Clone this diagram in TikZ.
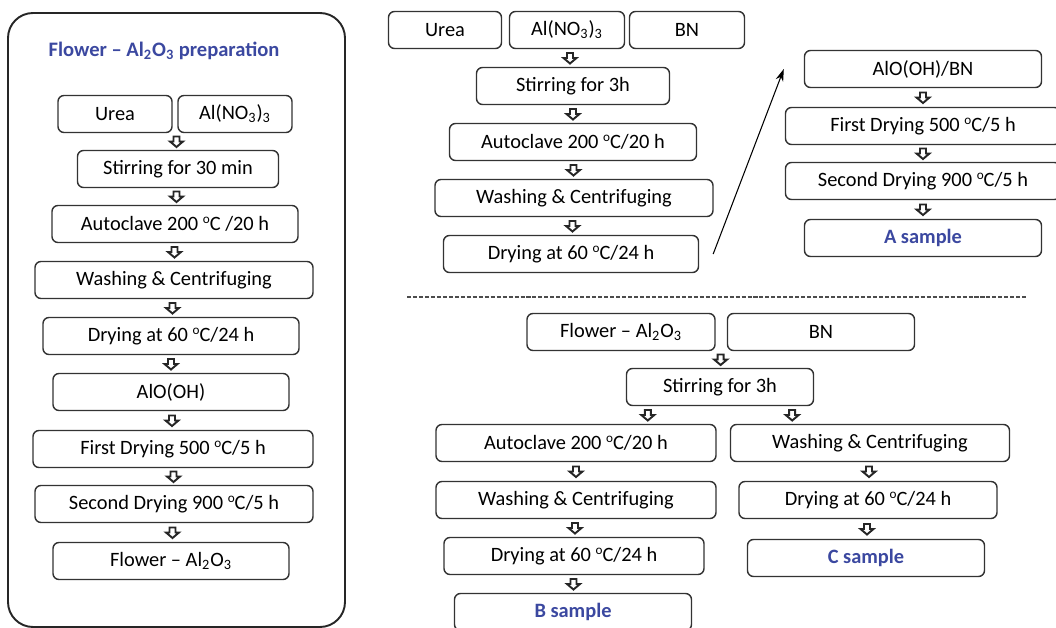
\documentclass[tikz,border=0pt]{standalone}
\usepackage{fontspec}
\setmainfont{Carlito}
\usetikzlibrary{calc,arrows.meta}
\definecolor{titleblue}{RGB}{59,72,160}
\newcommand{\dg}{\raisebox{0.75ex}{\fontsize{7.5}{8}\selectfont o}C}
\begin{document}
\begin{tikzpicture}[x=0.02cm, y=-0.02cm,
    box/.style={draw=black!80, line width=0.8pt, rounded corners=0.12cm, minimum height=0.74cm, inner sep=0pt, font=\fontsize{11.6}{13}\selectfont},
    wd/.style={minimum width=#1*0.02cm},
    result/.style={box, font=\fontsize{11.6}{13}\selectfont\bfseries, text=titleblue},
    flowarrow/.pic={\draw[black!85, line width=1.1pt, fill=white] (-3,-5) -- (3,-5) -- (3,0) -- (6.5,0) -- (0,5.5) -- (-6.5,0) -- (-3,0) -- cycle;}]
    \useasboundingbox (0,0) rectangle (1056,628);
    \draw[black!85, line width=1.1pt, rounded corners=0.5cm] (8,13) rectangle (345,627);
    \node[font=\fontsize{11.7}{14}\selectfont\bfseries, text=titleblue] (title) at (164,51) {Flower -- Al\textsubscript{2}O\textsubscript{3} preparation};
    \node[box, wd=114] (lurea) at (115,114) {Urea};
    \node[box, wd=114] (lnitr) at (235,114) {Al(NO\textsubscript{3})\textsubscript{3}};
    \node[box, wd=201] (lstir) at (178,169) {Stirring for 30 min};
    \node[box, wd=246] (lauto) at (175,224) {Autoclave 200 \dg{} /20 h};
    \node[box, wd=278] (lwash) at (174,280) {Washing \& Centrifuging};
    \node[box, wd=256] (ldry) at (171,336) {Drying at 60 \dg/24 h};
    \node[box, wd=236] (laloh) at (171,392) {AlO(OH)};
    \node[box, wd=280] (lfirst) at (173,449) {First Drying 500 \dg/5 h};
    \node[box, wd=278] (lsecond) at (174,504) {Second Drying 900 \dg/5 h};
    \node[box, wd=236] (lflower) at (171,561) {Flower -- Al\textsubscript{2}O\textsubscript{3}};
    \node[box, wd=113] (turea) at (445,30) {Urea};
    \node[box, wd=115] (tnitr) at (567,30) {Al(NO\textsubscript{3})\textsubscript{3}};
    \node[box, wd=115] (tbn) at (687,30) {BN};
    \node[box, wd=193] (tstir) at (573,86) {Stirring for 3h};
    \node[box, wd=247] (tauto) at (573,142) {Autoclave 200 \dg/20 h};
    \node[box, wd=278] (twash) at (574,198) {Washing \& Centrifuging};
    \node[box, wd=255] (tdry) at (571,254) {Drying at 60 \dg/24 h};
    \node[box, wd=237] (taloh) at (923,69) {AlO(OH)/BN};
    \node[box, wd=275] (tfirst) at (923,126) {First Drying 500 \dg/5 h};
    \node[box, wd=275] (tsecond) at (923,181) {Second Drying 900 \dg/5 h};
    \node[result, wd=237] (tA) at (923,238) {A sample};
    \draw[-{Stealth[length=7pt, width=4.5pt]}, line width=0.6pt] ([xshift=0.28cm]tdry.east) -- ([xshift=-0.4cm]taloh.west);
    \draw[line width=0.6pt, black!70, dash pattern=on 2.3pt off 1.1pt] (407,297) -- (1027,297);
    \node[box, wd=188] (bflower) at (621,332) {Flower -- Al\textsubscript{2}O\textsubscript{3}};
    \node[box, wd=187] (bbn) at (821,332) {BN};
    \node[box, wd=187] (bstir) at (720,387) {Stirring for 3h};
    \node[box, wd=280] (bauto) at (576,443) {Autoclave 200 \dg/20 h};
    \node[box, wd=280] (bwash) at (576,500) {Washing \& Centrifuging};
    \node[box, wd=260] (bdry) at (574,556) {Drying at 60 \dg/24 h};
    \node[result, wd=237] (bB) at (573,612) {B sample};
    \node[box, wd=279] (cwash) at (870,443) {Washing \& Centrifuging};
    \node[box, wd=258] (cdry) at (868,500) {Drying at 60 \dg/24 h};
    \node[result, wd=237] (cC) at (866,558) {C sample};
    \pic at ($($(lurea.south east)!0.5!(lnitr.south west)$)!0.5!(lstir.north)$) {flowarrow};
    \pic at ($(lstir.south)!0.5!(lauto.north)$) {flowarrow};
    \pic at ($(lauto.south)!0.5!(lwash.north)$) {flowarrow};
    \pic at ($(lwash.south)!0.5!(ldry.north)$) {flowarrow};
    \pic at ($(ldry.south)!0.5!(laloh.north)$) {flowarrow};
    \pic at ($(laloh.south)!0.5!(lfirst.north)$) {flowarrow};
    \pic at ($(lfirst.south)!0.5!(lsecond.north)$) {flowarrow};
    \pic at ($(lsecond.south)!0.5!(lflower.north)$) {flowarrow};
    \pic at ($(tnitr.south)!0.5!(tstir.north)$) {flowarrow};
    \pic at ($(tstir.south)!0.5!(tauto.north)$) {flowarrow};
    \pic at ($(tauto.south)!0.5!(twash.north)$) {flowarrow};
    \pic at ($(twash.south)!0.5!(tdry.north)$) {flowarrow};
    \pic at ($(taloh.south)!0.5!(tfirst.north)$) {flowarrow};
    \pic at ($(tfirst.south)!0.5!(tsecond.north)$) {flowarrow};
    \pic at ($(tsecond.south)!0.5!(tA.north)$) {flowarrow};
    \pic at ($($(bflower.south east)!0.5!(bbn.south west)$)!0.5!(bstir.north)$) {flowarrow};
    \pic at ($([xshift=0.44cm]bstir.south west)!0.5!([xshift=0.44cm]bstir.south west |- bauto.north)$) {flowarrow};
    \pic at ($([xshift=-0.44cm]bstir.south east)!0.5!([xshift=-0.44cm]bstir.south east |- cwash.north)$) {flowarrow};
    \pic at ($(bauto.south)!0.5!(bwash.north)$) {flowarrow};
    \pic at ($(bwash.south)!0.5!(bdry.north)$) {flowarrow};
    \pic at ($(bdry.south)!0.5!(bB.north)$) {flowarrow};
    \pic at ($(cwash.south)!0.5!(cdry.north)$) {flowarrow};
    \pic at ($(cdry.south)!0.5!(cC.north)$) {flowarrow};
  \end{tikzpicture}
\end{document}
